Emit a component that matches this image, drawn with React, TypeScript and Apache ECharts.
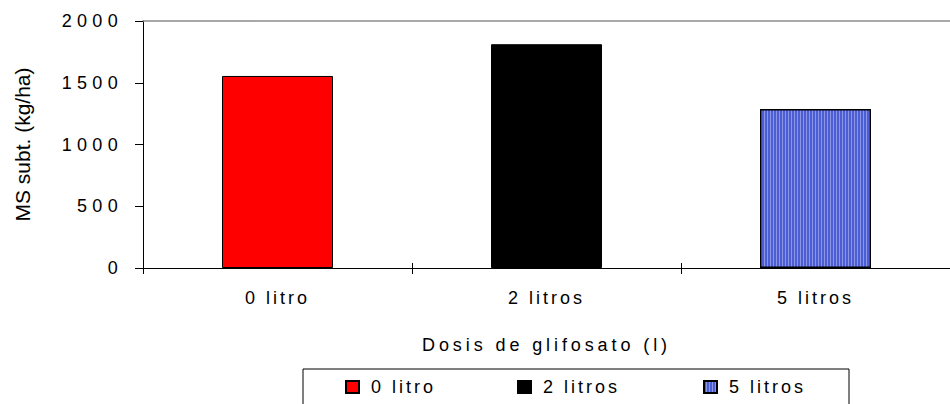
import React, { useEffect, useRef } from "react";
import * as echarts from "echarts";

const categories = ["0 litro", "2 litros", "5 litros"];
const values = [1555, 1812, 1287];
const seriesNames = ["0 litro", "2 litros", "5 litros"];
const yTicks = { min: 0, max: 2000, interval: 500 };
const xTitle = "Dosis de glifosato (l)";
const yTitle = "MS subt. (kg/ha)";

function makeStripes(): HTMLCanvasElement {
  const c = document.createElement("canvas");
  c.width = 3;
  c.height = 4;
  const ctx = c.getContext("2d")!;
  ctx.fillStyle = "#4d5dd4";
  ctx.fillRect(0, 0, 3, 4);
  ctx.fillStyle = "#8a95e6";
  ctx.fillRect(2, 0, 1, 4);
  return c;
}

export default function App() {
  const ref = useRef<HTMLDivElement>(null);
  useEffect(() => {
    document.body.style.margin = "0";
    const chart = echarts.init(ref.current!, null, { renderer: "svg" });
    const font = "Arial, 'Liberation Sans', sans-serif";
    const stripes = makeStripes();
    const colors: any[] = [
      "#ff0000",
      "#000000",
      { image: stripes, repeat: "repeat" },
    ];
    const series = seriesNames.map((name, i) => ({
      name,
      type: "bar",
      stack: "all",
      barWidth: 111,
      data: categories.map((_, j) => (j === i ? values[j] : "-")),
      itemStyle: { color: colors[i], borderColor: "#000", borderWidth: i === 2 ? 1.5 : 1 },
      silent: true,
    }));
    const legendLefts = [345, 517, 703];
    chart.setOption({
      animation: false,
      grid: { left: 143, top: 21, width: 817, height: 247 },
      xAxis: [
        {
          type: "category",
          data: categories,
          position: "bottom",
          name: xTitle,
          nameLocation: "middle",
          nameGap: 68,
          nameTextStyle: { fontFamily: font, fontSize: 18, color: "#000" },
          axisLine: { lineStyle: { color: "#000", width: 1 } },
          axisTick: { show: true, length: 6, lineStyle: { color: "#000" } },
          axisLabel: { margin: 21, fontFamily: font, fontSize: 18, color: "#000" },
        },
        {
          type: "category",
          data: categories,
          position: "top",
          axisLine: { lineStyle: { color: "#8c8c8c", width: 1.5 } },
          axisTick: { show: false },
          axisLabel: { show: false },
        },
        {
          type: "category",
          data: categories,
          position: "bottom",
          offset: 0,
          axisLine: { show: false },
          axisTick: { show: true, inside: true, length: 5, lineStyle: { color: "#000" } },
          axisLabel: { show: false },
        },
      ],
      yAxis: {
        type: "value",
        min: yTicks.min,
        max: yTicks.max,
        interval: yTicks.interval,
        name: yTitle,
        nameLocation: "middle",
        nameGap: 110,
        nameTextStyle: { fontFamily: font, fontSize: 21, color: "#000" },
        axisLine: { show: true, lineStyle: { color: "#000", width: 1 } },
        axisTick: { show: true, length: 8, lineStyle: { color: "#000" } },
        axisLabel: {
          margin: 20,
          fontFamily: font,
          fontSize: 18,
          color: "#000",
          formatter: (v: number) => String(v),
        },
        splitLine: { show: false },
      },
      legend: seriesNames.map((n, i) => ({
        data: [n],
        left: legendLefts[i],
        top: 378,
        padding: 0,
        icon: "rect",
        itemWidth: 13,
        itemHeight: 12,
        selectedMode: false,
        textStyle: { fontFamily: font, fontSize: 18, color: "#000", padding: [0, 0, 0, 7] },
      })),
      graphic: [
        {
          type: "rect",
          shape: { x: 303, y: 369, width: 546, height: 60 },
          style: { fill: "none", stroke: "#000", lineWidth: 1 },
          silent: true,
        },
      ],
      series,
    });
    const spacing = (s: string): number => {
      if (s === yTitle) return 0;
      if (s === xTitle) return 3.9;
      if (/^\d+$/.test(s)) return 5.3;
      return 3;
    };
    ref.current!.querySelectorAll("text").forEach((t) => {
      const s = t.textContent || "";
      const sp = spacing(s);
      if (sp) t.setAttribute("letter-spacing", String(sp));
    });
    return () => chart.dispose();
  }, []);
  return <div ref={ref} style={{ width: 950, height: 404 }} />;
}
